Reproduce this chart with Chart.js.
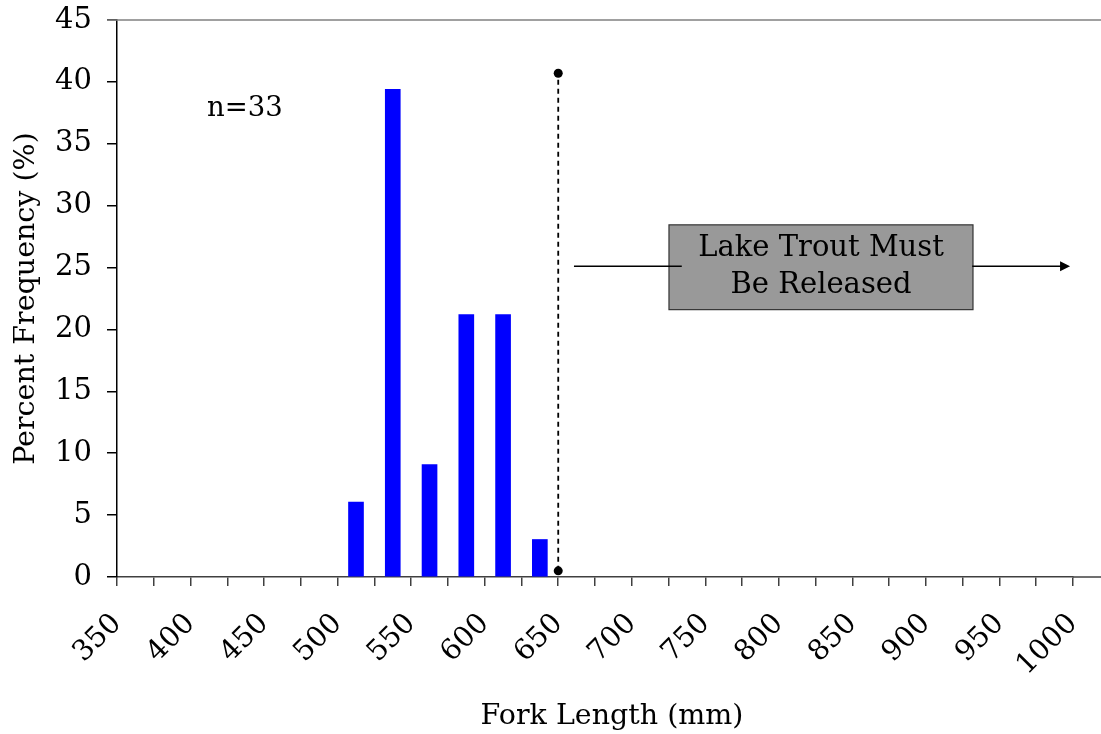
<!DOCTYPE html>
<html>
<head>
<meta charset="utf-8">
<script src="https://cdn.jsdelivr.net/npm/chart.js@4"></script>
<style>
  html, body { margin: 0; padding: 0; background: #fff; }
  #wrap { width: 1101px; height: 734px; position: relative; }
</style>
</head>
<body>
<div id="wrap"><canvas id="c" width="1101" height="734"></canvas></div>
<script>
// ---- data ----
const binStarts = [500, 525, 550, 575, 600, 625];   // fork length bin lower edges (mm)
const binWidth = 25;
const percentFrequency = [6.06, 39.39, 9.09, 21.21, 21.21, 3.03];
const sampleLabel = 'n=33';
const limitLength = 650;              // release limit (mm)
const limitLineY = [0.5, 40.7];       // extent of dashed limit line (%)
const xMin = 350, xMax = 1000, xStep = 25, xLabelEvery = 50;
const yMin = 0, yMax = 45, yStep = 5;
const boxText = ['Lake Trout Must', 'Be Released'];
const xTitle = 'Fork Length (mm)';
const yTitle = 'Percent Frequency (%)';

const FONT = "'DejaVu Serif', serif";

const barData = binStarts.map((s, i) => ({ x: s + binWidth / 2, y: percentFrequency[i] }));
const limitData = limitLineY.map(v => ({ x: limitLength, y: v }));

// annotation geometry in data units
const ann = {
  lineStartX: 660.7, lineEndX: 734, arrowY: 25.1,
  boxLeft: 725.3, boxRight: 932, boxTop: 28.45, boxBottom: 21.6,
  arrowStartX: 931.5, arrowTipX: 998,
  nX: 437, nY: 37.85
};

const annotationPlugin = {
  id: 'ann',
  afterDraw(chart) {
    const { ctx, chartArea, scales: { x, y } } = chart;
    ctx.save();
    // top border extension
    ctx.strokeStyle = '#808080';
    ctx.lineWidth = 1.5;
    ctx.beginPath();
    ctx.moveTo(chartArea.left - 10, chartArea.top);
    ctx.lineTo(chart.width, chartArea.top);
    ctx.stroke();
    // x axis extension to right edge
    ctx.strokeStyle = '#404040';
    ctx.beginPath();
    ctx.moveTo(chartArea.right, chartArea.bottom);
    ctx.lineTo(chart.width, chartArea.bottom);
    ctx.stroke();

    // box
    const bl = x.getPixelForValue(ann.boxLeft), br = x.getPixelForValue(ann.boxRight);
    const bt = y.getPixelForValue(ann.boxTop), bb = y.getPixelForValue(ann.boxBottom);
    ctx.fillStyle = '#999999';
    ctx.fillRect(bl, bt, br - bl, bb - bt);
    ctx.strokeStyle = '#333333';
    ctx.lineWidth = 1.2;
    ctx.strokeRect(bl, bt, br - bl, bb - bt);

    // arrow line
    const ay = y.getPixelForValue(ann.arrowY);
    ctx.strokeStyle = '#000';
    ctx.lineWidth = 1.5;
    ctx.beginPath();
    ctx.moveTo(x.getPixelForValue(ann.lineStartX), ay);
    ctx.lineTo(x.getPixelForValue(ann.lineEndX), ay);
    ctx.stroke();
    const tip = x.getPixelForValue(ann.arrowTipX);
    ctx.beginPath();
    ctx.moveTo(x.getPixelForValue(ann.arrowStartX), ay);
    ctx.lineTo(tip - 8, ay);
    ctx.stroke();
    ctx.fillStyle = '#000';
    ctx.beginPath();
    ctx.moveTo(tip, ay);
    ctx.lineTo(tip - 10, ay - 5);
    ctx.lineTo(tip - 10, ay + 5);
    ctx.closePath();
    ctx.fill();

    // box text
    ctx.fillStyle = '#000';
    ctx.font = '29px ' + FONT;
    ctx.textAlign = 'center';
    ctx.textBaseline = 'alphabetic';
    const cx = (bl + br) / 2;
    ctx.fillText(boxText[0], cx, bt + 31);
    ctx.fillText(boxText[1], cx, bt + 68);

    // n label
    ctx.font = '27.5px ' + FONT;
    ctx.textBaseline = 'middle';
    ctx.fillText(sampleLabel, x.getPixelForValue(ann.nX), y.getPixelForValue(ann.nY));

    // x axis title (centred under the full chart width, as in the original)
    ctx.font = '28.5px ' + FONT;
    ctx.fillText(xTitle, (chartArea.left + chart.width) / 2 + 3, chart.height - 17);
    ctx.restore();
  }
};

new Chart(document.getElementById('c'), {
  data: {
    datasets: [
      {
        type: 'bar',
        data: barData,
        backgroundColor: '#0000FF',
        borderWidth: 0,
        barThickness: 15,
        order: 2
      },
      {
        type: 'line',
        data: limitData,
        borderColor: '#000',
        borderWidth: 1.8,
        borderDash: [5, 4],
        pointRadius: 4.5,
        pointBackgroundColor: '#000',
        pointBorderColor: '#000',
        pointBorderWidth: 0,
        order: 1
      }
    ]
  },
  options: {
    responsive: false,
    animation: false,
    events: [],
    layout: { padding: { left: 0, right: 28, top: 20, bottom: 0 } },
    plugins: { legend: { display: false }, tooltip: { enabled: false } },
    scales: {
      x: {
        type: 'linear',
        min: xMin, max: xMax,
        offset: false,
        afterFit(scale) { scale.height = 734 - 577; scale.paddingLeft = 0; scale.paddingRight = 0; },
        afterBuildTicks(scale) {
          const t = [];
          for (let v = xMin; v <= xMax; v += xStep) t.push({ value: v });
          scale.ticks = t;
        },
        ticks: {
          autoSkip: false,
          minRotation: 45, maxRotation: 45,
          padding: 21,
          color: '#000',
          font: { family: FONT, size: 28.5 },
          callback: v => (v % xLabelEvery === 0 ? String(v) : '')
        },
        grid: { offset: false, drawOnChartArea: false, drawTicks: true, tickLength: 9, color: '#404040', lineWidth: 1.5 },
        border: { color: '#404040', width: 1.5 },
        title: { display: false }
      },
      y: {
        min: yMin, max: yMax,
        afterFit(scale) { scale.width = 117; scale.paddingTop = 0; scale.paddingBottom = 0; },
        ticks: { stepSize: yStep, padding: 15, color: '#000', font: { family: FONT, size: 29 } },
        grid: { drawOnChartArea: false, drawTicks: true, tickLength: 10, color: '#000', lineWidth: 1.5 },
        border: { color: '#000', width: 1.5 },
        title: { display: true, text: yTitle, color: '#000', font: { family: FONT, size: 28.5 }, padding: { top: 9, bottom: 0 } }
      }
    }
  },
  plugins: [annotationPlugin]
});
</script>
</body>
</html>
